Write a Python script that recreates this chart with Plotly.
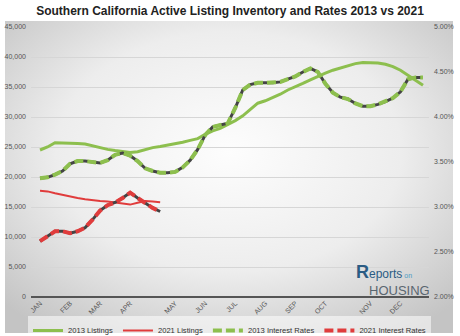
import base64
import plotly.graph_objects as go

# ---------------- data ----------------
weeks_2013 = list(range(52))
listings_2013 = [24500, 25000, 25700, 25700, 25600, 25600, 25500, 25200, 24800, 24600,
                 24400, 24200, 24100, 24200, 24600, 24900, 25100, 25300, 25500, 25800,
                 26100, 26400, 27100, 27700, 28100, 28700, 29400, 30200, 31300, 32300,
                 32700, 33200, 33800, 34500, 35000, 35600, 36200, 36800, 37300, 37800,
                 38200, 38600, 38900, 39100, 39100, 39000, 38800, 38400, 37800, 37000,
                 36200, 35300]
rates_2013 = [3.32, 3.33, 3.36, 3.40, 3.48, 3.51, 3.51, 3.50, 3.49, 3.52,
              3.58, 3.60, 3.57, 3.51, 3.43, 3.40, 3.38, 3.38, 3.39, 3.44,
              3.52, 3.64, 3.80, 3.89, 3.91, 3.93, 4.10, 4.30, 4.36, 4.38,
              4.38, 4.38, 4.39, 4.42, 4.45, 4.50, 4.54, 4.50, 4.37, 4.27,
              4.22, 4.20, 4.15, 4.12, 4.12, 4.14, 4.17, 4.21, 4.28, 4.42,
              4.44, 4.44]
weeks_2021 = list(range(17))
listings_2021 = [17700, 17600, 17300, 17000, 16700, 16500, 16300, 16100, 16000, 15900,
                 15700, 15500, 15400, 15700, 16000, 15900, 15800]
rates_2021 = [2.62, 2.68, 2.73, 2.73, 2.71, 2.73, 2.77, 2.86, 2.96, 3.02,
              3.05, 3.10, 3.16, 3.10, 3.04, 2.99, 2.95]

month_labels = ["JAN", "FEB", "MAR", "APR", "MAY", "JUN", "JUL", "AUG", "SEP", "OCT", "NOV", "DEC"]
month_weeks = [0, 4, 8, 12, 18, 22, 26, 30, 34, 38, 44, 48]
left_ticks = list(range(0, 45001, 5000))
right_ticks = [2.0, 2.5, 3.0, 3.5, 4.0, 4.5, 5.0]

GREEN = "#8dbf4e"
RED = "#e03c3c"
SHADOW = "#444444"
FONT = "Liberation Sans, Arial, sans-serif"

fig = go.Figure()

fig.add_trace(go.Scatter(x=weeks_2013, y=listings_2013, mode="lines", name="2013 Listings",
                         line=dict(color=GREEN, width=3)))
fig.add_trace(go.Scatter(x=weeks_2021, y=listings_2021, mode="lines", name="2021 Listings",
                         line=dict(color=RED, width=2)))
# dark shadows under the dashed lines
fig.add_trace(go.Scatter(x=weeks_2013, y=rates_2013, mode="lines", yaxis="y2", showlegend=False,
                         hoverinfo="skip", line=dict(color=SHADOW, width=3)))
fig.add_trace(go.Scatter(x=weeks_2013, y=rates_2013, mode="lines", yaxis="y2", name="2013 Interest Rates",
                         line=dict(color=GREEN, width=4, dash="9px,4px")))
fig.add_trace(go.Scatter(x=weeks_2021, y=rates_2021, mode="lines", yaxis="y2", showlegend=False,
                         hoverinfo="skip", line=dict(color=SHADOW, width=3)))
fig.add_trace(go.Scatter(x=weeks_2021, y=rates_2021, mode="lines", yaxis="y2", name="2021 Interest Rates",
                         line=dict(color=RED, width=4, dash="9px,4px")))

svg = """<svg xmlns='http://www.w3.org/2000/svg' width='448' height='312' viewBox='0 0 448 312' preserveAspectRatio='none'>
<defs><radialGradient id='g' cx='50%' cy='42%' r='70%'>
<stop offset='0%' stop-color='#fdfdfd'/><stop offset='55%' stop-color='#ededed'/><stop offset='100%' stop-color='#c4c4c4'/>
</radialGradient></defs><rect width='448' height='312' fill='url(#g)'/></svg>"""
src = "data:image/svg+xml;base64," + base64.b64encode(svg.encode()).decode()

L, R, T, B = 31, 31, 27, 39
W, H = 460, 336
pw, ph = W - L - R, H - T - B

def px(xp):
    return (xp - L) / pw

def py(yp):
    return (H - B - yp) / ph

fig.add_layout_image(dict(source=src, xref="paper", yref="paper", x=px(5), y=py(21),
                          sizex=px(453) - px(5), sizey=py(21) - py(333),
                          xanchor="left", yanchor="top", sizing="stretch", layer="below"))

tickfont = dict(family=FONT, size=7, color="#555555")

fig.update_layout(
    width=W, height=H,
    margin=dict(l=L, r=R, t=T, b=B, autoexpand=False),
    paper_bgcolor="white",
    plot_bgcolor="rgba(0,0,0,0)",
    title=dict(text="<b>Southern California Active Listing Inventory and Rates 2013 vs 2021</b>",
               x=0.5, xanchor="center", y=1 - 11 / H, yanchor="middle",
               font=dict(family=FONT, size=12, color="#222222")),
    xaxis=dict(range=[-1.2, 51.8], tickmode="array", tickvals=month_weeks, ticktext=month_labels,
               tickangle=-45, tickfont=tickfont, showgrid=False, zeroline=False,
               showline=False, ticks="", automargin=False),
    yaxis=dict(range=[0, 45000], tickmode="array", tickvals=left_ticks,
               ticktext=[f"{v:,}" for v in left_ticks], tickfont=tickfont,
               showgrid=True, gridcolor="#d6d6d6", gridwidth=1, zeroline=True,
               zerolinecolor="#555555", zerolinewidth=2, ticks="", ticklabelstandoff=4,
               automargin=False),
    yaxis2=dict(range=[2.0, 5.0], overlaying="y", side="right", tickmode="array",
                tickvals=right_ticks, ticktext=[f"{v:.2f}%" for v in right_ticks],
                tickfont=tickfont, showgrid=False, zeroline=False, ticks="", ticklabelstandoff=4,
                automargin=False),
    legend=dict(orientation="h", x=px(28), xanchor="left", y=py(316), yanchor="top",
                bgcolor="rgba(255,255,255,0.55)", font=dict(family=FONT, size=7.6, color="#333333"),
                itemwidth=30, tracegroupgap=0),
    showlegend=True,
)

# logo
fig.add_annotation(xref="paper", yref="paper", x=px(355), y=py(272), xanchor="left", yanchor="middle",
                   text="<span style='font-size:18px'><b>R</b></span>eports"
                        "<span style='font-size:7px;color:#4c9cc4'> on</span>",
                   showarrow=False, borderpad=0,
                   font=dict(family=FONT, size=12, color="#2b5c84"))
fig.add_annotation(xref="paper", yref="paper", x=px(368), y=py(290), xanchor="left", yanchor="middle",
                   text="HOUSING", showarrow=False, borderpad=0,
                   font=dict(family=FONT, size=13, color="#5a6670"))

fig.write_html("out.html")
